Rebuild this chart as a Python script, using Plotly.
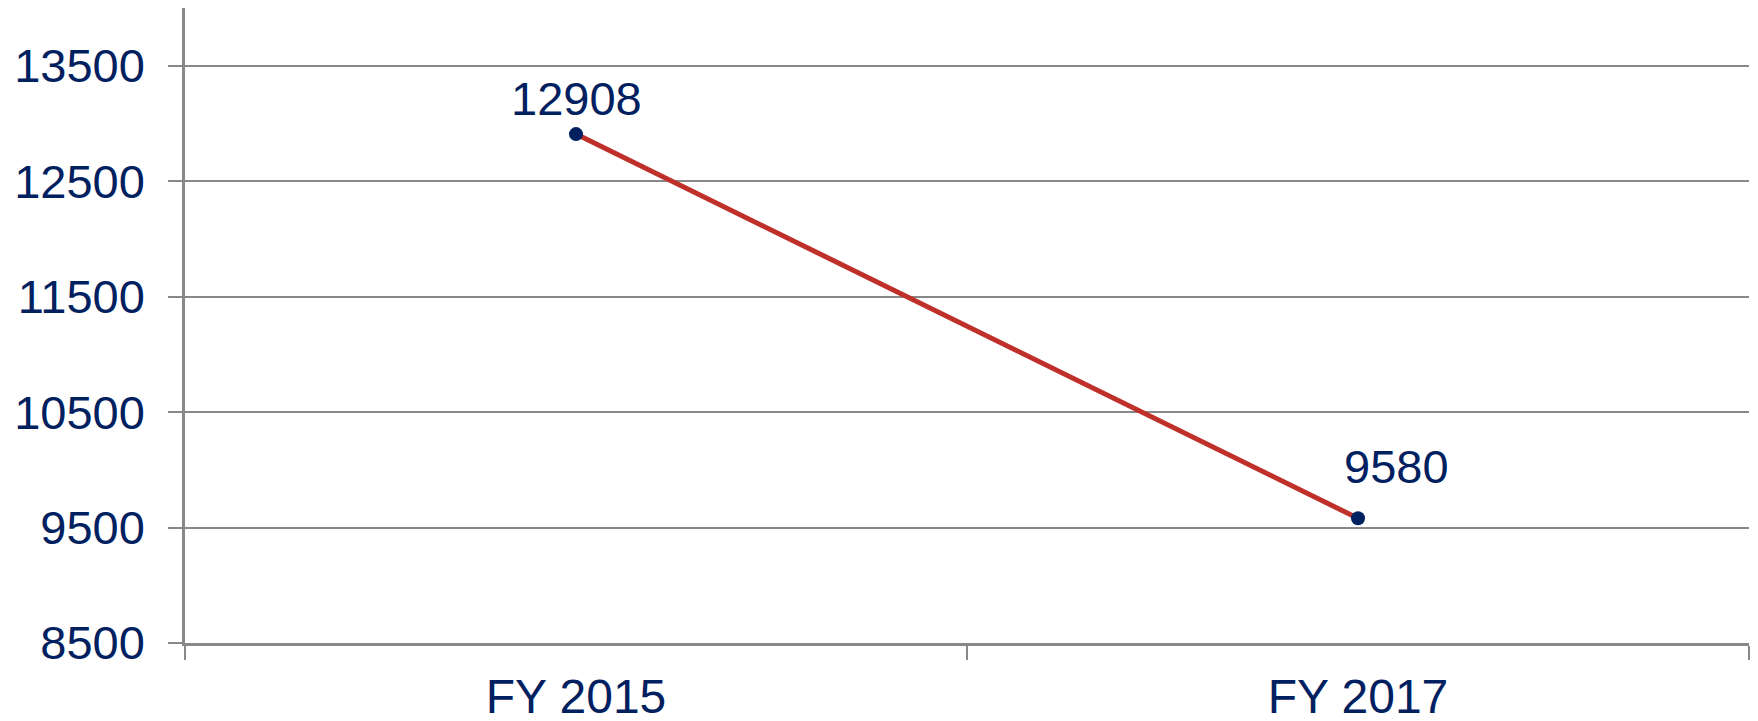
import plotly.graph_objects as go

categories = ["FY 2015", "FY 2017"]
values = [12908, 9580]
y_ticks = [8500, 9500, 10500, 11500, 12500, 13500]

navy = "#002060"
red = "#C0302A"
grid = "#888888"
font_family = "Liberation Sans, Arial, sans-serif"

fig = go.Figure()
fig.add_trace(go.Scatter(
    x=categories, y=values, mode="lines+markers",
    line=dict(color=red, width=5),
    marker=dict(color=navy, size=14),
    hoverinfo="skip", showlegend=False,
))

label_shifts = [(0, 36), (38, 52)]
for c, v, (xs, ys) in zip(categories, values, label_shifts):
    fig.add_annotation(x=c, y=v, text=str(v), showarrow=False,
                       xshift=xs, yshift=ys,
                       font=dict(family=font_family, size=47, color=navy))

# page body has an 8px default margin, so the figure is sized to fit
fig.update_layout(
    width=1750, height=713,
    margin=dict(l=177, r=9, t=0, b=78),
    plot_bgcolor="white", paper_bgcolor="white",
    font=dict(family=font_family, color=navy, size=47),
)
fig.update_xaxes(
    type="category", tickson="boundaries", ticks="outside", ticklen=14,
    tickwidth=1.5, tickcolor=grid, automargin=False,
    showline=True, linecolor=grid, linewidth=2.5, showgrid=False,
    tickfont=dict(family=font_family, size=48, color=navy),
    ticklabelstandoff=10, range=[-0.5, 1.5],
)
fig.update_yaxes(
    range=[8500, 14000], tickvals=y_ticks, ticktext=[str(t) for t in y_ticks],
    ticks="outside", ticklen=14, tickwidth=2, tickcolor=grid, automargin=False,
    showline=True, linecolor=grid, linewidth=2.5,
    showgrid=True, gridcolor=grid, gridwidth=2, zeroline=False,
    tickfont=dict(family=font_family, size=47, color=navy),
    ticklabelstandoff=14,
)

fig.write_html("out.html")
